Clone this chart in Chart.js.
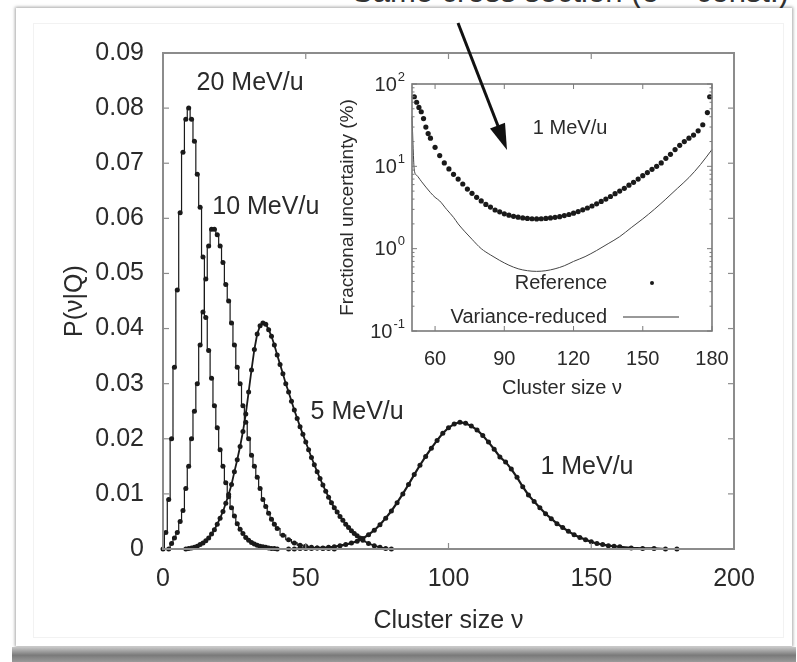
<!DOCTYPE html>
<html><head><meta charset="utf-8">
<script src="https://cdn.jsdelivr.net/npm/chart.js@4.4.0/dist/chart.umd.min.js"></script>
<style>
html,body{margin:0;padding:0;background:#fff;width:797px;height:662px;overflow:hidden;position:relative;}
#card{position:absolute;left:16px;top:8px;width:776px;height:638px;background:#fff;box-shadow:0 0 3px 1px rgba(0,0,0,0.35);}
#inner{position:absolute;left:33px;top:23px;width:749px;height:613px;border:1px solid #f2f2f2;}
#band{position:absolute;left:12px;top:647px;width:784px;height:15px;background:linear-gradient(to bottom,#c8c8c8,#7a7a7a 55%,#9a9a9a);}
#toptext{position:absolute;left:352px;top:-26px;font:31px "Liberation Sans",Arial,sans-serif;color:#333;white-space:nowrap;}
canvas{position:absolute;}
#main{left:0;top:0;}
#inset{left:330px;top:60px;}
svg{position:absolute;left:0;top:0;}
</style></head>
<body>
<div id="toptext">Same cross section (σ = const.)</div>
<div id="card"></div>
<div id="inner"></div>
<div id="band"></div>
<canvas id="main" width="797" height="662"></canvas>
<canvas id="inset" width="420" height="345"></canvas>
<svg width="797" height="662">
  <line x1="458" y1="23" x2="498" y2="126" stroke="#111" stroke-width="3"/>
  <polygon points="507,150 505,122.8 490,128.6" fill="#111"/>
</svg>
<script>
// ---- main plot data: P(nu|Q) vs cluster size nu ----
const nu20 = [0,1,2,3,4,5,6,7,8,9,10,11,12,13,14,15,16,17,18,19,20,21,22,23,24,25,26,27,28,29,30,31,32,33,34,35,36,37,38,39,40];
const p20  = [0,0.003,0.009,0.020,0.033,0.047,0.061,0.072,0.078,0.080,0.078,0.074,0.068,0.062,0.053,0.042,0.036,0.031,0.026,0.022,0.018,0.015,0.012,0.0095,0.0075,0.006,0.0046,0.0036,0.0028,0.0021,0.0016,0.0012,0.0009,0.0007,0.0005,0.0004,0.0003,0.0002,0.0001,0.0001,0];
const nu10 = [2,3,4,5,6,7,8,9,10,11,12,13,14,15,16,17,18,19,20,21,22,23,24,25,26,27,28,29,30,31,32,33,34,35,36,37,38,39,40,42,44,46,48,50,52,54,56,58,60];
const p10  = [0,0.001,0.002,0.003,0.005,0.007,0.011,0.015,0.020,0.025,0.030,0.037,0.043,0.049,0.055,0.058,0.058,0.057,0.055,0.052,0.048,0.045,0.041,0.037,0.033,0.030,0.026,0.023,0.020,0.017,0.015,0.013,0.011,0.009,0.0077,0.0065,0.0054,0.0045,0.0037,0.0025,0.0017,0.0011,0.0007,0.0005,0.0003,0.0002,0.0001,0.0001,0];
const nu5  = [8,9,10,11,12,13,14,15,16,17,18,19,20,21,22,23,24,25,26,27,28,29,30,31,32,33,34,35,36,37,38,39,40,41,42,43,44,45,46,47,48,49,50,51,52,53,54,55,56,57,58,59,60,61,62,63,64,65,66,67,68,69,70,72,74,76,78,80];
const p5   = [0,0.0001,0.0002,0.0003,0.0005,0.0008,0.0011,0.0015,0.0020,0.0027,0.0035,0.0045,0.0056,0.0068,0.0083,0.0099,0.0117,0.0140,0.0162,0.0186,0.0213,0.0245,0.0285,0.0325,0.0362,0.0390,0.0405,0.0410,0.0408,0.0398,0.0386,0.0370,0.0352,0.0335,0.0318,0.0300,0.0285,0.0268,0.0252,0.0237,0.0222,0.0208,0.0194,0.0180,0.0166,0.0153,0.0140,0.0128,0.0116,0.0105,0.0094,0.0084,0.0075,0.0067,0.0059,0.0052,0.0045,0.0039,0.0033,0.0028,0.0024,0.0020,0.0016,0.0010,0.0006,0.0003,0.0001,0];
const nu1  = [44,46,48,50,52,54,56,58,60,62,64,66,68,70,72,74,76,78,80,82,84,86,88,90,92,94,96,98,100,102,104,106,108,110,112,114,116,118,120,122,124,126,128,130,132,134,136,138,140,142,144,146,148,150,152,154,156,158,160,164,168,172,176,180];
const p1   = [0,0,0.0001,0.0001,0.0001,0.0002,0.0002,0.0003,0.0004,0.0006,0.0008,0.0011,0.0014,0.0019,0.0026,0.0034,0.0044,0.0056,0.0069,0.0084,0.0100,0.0117,0.0135,0.0152,0.0168,0.0183,0.0197,0.0210,0.0220,0.0227,0.0230,0.0228,0.0223,0.0216,0.0206,0.0194,0.0181,0.0167,0.0158,0.0145,0.0130,0.0113,0.0098,0.0086,0.0075,0.0064,0.0055,0.0046,0.0039,0.0032,0.0026,0.0021,0.0017,0.0013,0.0010,0.0008,0.0006,0.0005,0.0004,0.0002,0.0001,0.0001,0,0];
const mainXTicks = [0,50,100,150,200];
const mainYTicks = [0,0.01,0.02,0.03,0.04,0.05,0.06,0.07,0.08,0.09];
const mainYLabels = ['0','0.01','0.02','0.03','0.04','0.05','0.06','0.07','0.08','0.09'];
const curveLabels = ['20 MeV/u','10 MeV/u','5 MeV/u','1 MeV/u'];

// ---- inset data: fractional uncertainty (%) vs nu, 1 MeV/u ----
const insetNu  = [51,52,53,54,55,56,57,58,60,62,64,66,68,70,72,74,76,78,80,82,84,86,88,90,92,94,96,98,100,102,104,106,108,110,112,114,116,118,120,122,124,126,128,130,132,134,136,138,140,142,144,146,148,150,152,154,156,158,160,162,164,166,168,170,172,174,176,178,179];
const insetRef = [70,60,52,46,38,30,25,22,17,13.5,11,9.3,8,7,6.1,5.3,4.7,4.2,3.8,3.45,3.2,2.95,2.8,2.65,2.55,2.47,2.41,2.36,2.33,2.31,2.30,2.31,2.33,2.36,2.40,2.45,2.52,2.6,2.7,2.82,2.96,3.12,3.3,3.5,3.75,4.0,4.3,4.65,5.0,5.4,5.9,6.4,7.0,7.7,8.4,9.2,10,11,12.5,14,16,18,20,22,24,27,32,45,70];
const varNu  = [50,51,52,54,56,58,60,62,65,68,70,73,76,80,84,88,92,96,100,104,108,112,116,120,125,130,135,140,145,150,155,160,165,170,175,180];
const varVal = [40,9,7.8,6.6,5.6,4.8,4.2,3.8,3.0,2.4,2.0,1.6,1.3,1.0,0.84,0.72,0.63,0.57,0.54,0.53,0.54,0.57,0.62,0.70,0.80,0.95,1.15,1.4,1.8,2.3,3.0,4.0,5.4,7.3,10.5,16];
const insetXTicks = [60,90,120,150,180];
const insetYTicks = [0.1,1,10,100];
const insetYExp = ['-1','0','1','2'];
const legendNames = ['Reference','Variance-reduced'];
const insetLabel = '1 MeV/u';

const FONT = '"Liberation Sans", Arial, Helvetica, sans-serif';
const INK = '#1a1a1a', TXT = '#2a2a2a', FRAME = '#8c8c8c';
const pts = (xs, ys) => xs.map((x, i) => ({x, y: ys[i]}));

const framePlugin = {
  id: 'frame',
  afterDatasetsDraw(chart, args, o) {
    const {ctx, chartArea: a, scales} = chart;
    const xs = scales.x, ys = scales.y;
    ctx.save();
    ctx.strokeStyle = o.color; ctx.lineWidth = o.width;
    ctx.strokeRect(a.left, a.top, a.right - a.left, a.bottom - a.top);
    ctx.lineWidth = o.tickWidth;
    const seg = (x1, y1, x2, y2) => { ctx.beginPath(); ctx.moveTo(x1, y1); ctx.lineTo(x2, y2); ctx.stroke(); };
    (o.xTicks || []).forEach(v => { const p = xs.getPixelForValue(v); seg(p, a.bottom, p, a.bottom - o.len); seg(p, a.top, p, a.top + o.len); });
    (o.yTicks || []).forEach(v => { const p = ys.getPixelForValue(v); seg(a.left, p, a.left + o.len, p); seg(a.right, p, a.right - o.len, p); });
    (o.yMinor || []).forEach(v => { const p = ys.getPixelForValue(v); seg(a.left, p, a.left + o.len / 2, p); seg(a.right, p, a.right - o.len / 2, p); });
    ctx.restore();
  }
};

const textPlugin = {
  id: 'texts',
  afterDraw(chart, args, o) {
    const {ctx, scales} = chart;
    ctx.save();
    ctx.fillStyle = TXT; ctx.textAlign = 'center'; ctx.textBaseline = 'middle';
    (o.items || []).forEach(t => {
      ctx.font = t.size + 'px ' + FONT;
      ctx.fillText(t.text, scales.x.getPixelForValue(t.x), scales.y.getPixelForValue(t.y));
    });
    ctx.restore();
  }
};

// main chart
const styleFor = (stepped, bw) => ({borderColor: INK, backgroundColor: INK, borderWidth: bw, pointRadius: 2.5, pointBorderWidth: 0, pointBackgroundColor: INK, stepped, clip: 6, fill: false, tension: 0});
new Chart(document.getElementById('main'), {
  type: 'line',
  data: {datasets: [
    {label: curveLabels[0], data: pts(nu20, p20), ...styleFor('middle', 1.2)},
    {label: curveLabels[1], data: pts(nu10, p10), ...styleFor('middle', 1.2)},
    {label: curveLabels[2], data: pts(nu5, p5), ...styleFor(false, 1.8)},
    {label: curveLabels[3], data: pts(nu1, p1), ...styleFor(false, 2.2)}
  ]},
  options: {
    responsive: false, animation: false, devicePixelRatio: 1,
    layout: {padding: {left: 0, top: 53, right: 63, bottom: 0}},
    plugins: {
      legend: {display: false}, tooltip: {enabled: false},
      frame: {color: FRAME, width: 2, tickWidth: 1.2, len: 6, xTicks: mainXTicks, yTicks: mainYTicks},
      texts: {items: [
        {text: curveLabels[0], x: 30.5, y: 0.0846, size: 25},
        {text: curveLabels[1], x: 36, y: 0.0621, size: 25},
        {text: curveLabels[2], x: 68, y: 0.0249, size: 25},
        {text: curveLabels[3], x: 148.5, y: 0.0149, size: 25}
      ]}
    },
    scales: {
      x: {type: 'linear', min: 0, max: 200,
        afterBuildTicks: s => { s.ticks = mainXTicks.map(v => ({value: v})); },
        afterFit: s => { s.height = 113; },
        grid: {display: false, drawTicks: false}, border: {display: false},
        ticks: {padding: 15, color: TXT, font: {family: FONT, size: 25}, maxRotation: 0, callback: v => String(v)},
        title: {display: true, text: 'Cluster size ν', color: TXT, font: {family: FONT, size: 25}, padding: {top: 0, bottom: 26}}
      },
      y: {type: 'linear', min: 0, max: 0.09,
        afterBuildTicks: s => { s.ticks = mainYTicks.map(v => ({value: v})); },
        afterFit: s => { s.width = 163; },
        grid: {display: false, drawTicks: false}, border: {display: false},
        ticks: {padding: 19, color: TXT, font: {family: FONT, size: 25}, callback: (v, i) => mainYLabels[i]},
        title: {display: true, text: 'P(ν|Q)', color: TXT, font: {family: FONT, size: 25}, padding: {top: 60, bottom: 0}}
      }
    }
  },
  plugins: [framePlugin, textPlugin]
});

// inset chart
const insetYLabelPlugin = {
  id: 'ylog',
  afterDraw(chart) {
    const {ctx, chartArea: a, scales} = chart;
    ctx.save(); ctx.fillStyle = TXT; ctx.textBaseline = 'middle'; ctx.textAlign = 'right';
    insetYTicks.forEach((v, i) => {
      const p = scales.y.getPixelForValue(v);
      ctx.font = '13px ' + FONT;
      const ew = ctx.measureText(insetYExp[i]).width;
      ctx.fillText(insetYExp[i], a.left - 7, p - 7);
      ctx.font = '20px ' + FONT;
      ctx.fillText('10', a.left - 8 - ew, p + 1);
    });
    ctx.restore();
  }
};
const insetLegendPlugin = {
  id: 'ilegend',
  afterDraw(chart) {
    const {ctx, chartArea: a} = chart;
    ctx.save(); ctx.fillStyle = TXT; ctx.textBaseline = 'middle'; ctx.textAlign = 'right';
    ctx.font = '20px ' + FONT;
    const tx = a.right - 105;
    ctx.fillText(legendNames[0], tx, a.bottom - 48);
    ctx.fillText(legendNames[1], tx, a.bottom - 14);
    ctx.fillStyle = INK; ctx.beginPath(); ctx.arc(a.right - 60, a.bottom - 48, 2, 0, Math.PI * 2); ctx.fill();
    ctx.strokeStyle = '#333'; ctx.lineWidth = 1;
    ctx.beginPath(); ctx.moveTo(a.right - 89, a.bottom - 14); ctx.lineTo(a.right - 33, a.bottom - 14); ctx.stroke();
    ctx.restore();
  }
};
const minorLog = [];
[0.1, 1, 10].forEach(d => { for (let k = 2; k <= 9; k++) minorLog.push(d * k); });
new Chart(document.getElementById('inset'), {
  type: 'line',
  data: {datasets: [
    {label: legendNames[0], data: pts(insetNu, insetRef), showLine: false, pointRadius: 2.6, pointBorderWidth: 0, pointBackgroundColor: INK, clip: 4},
    {label: legendNames[1], data: pts(varNu, varVal), borderColor: '#444', borderWidth: 1, pointRadius: 0, tension: 0.35, cubicInterpolationMode: 'monotone', clip: 2}
  ]},
  options: {
    responsive: false, animation: false, devicePixelRatio: 1,
    layout: {padding: {left: 0, top: 24, right: 38, bottom: 0}},
    plugins: {
      legend: {display: false}, tooltip: {enabled: false},
      frame: {color: '#7a7a7a', width: 1.6, tickWidth: 1, len: 5, xTicks: insetXTicks, yTicks: insetYTicks, yMinor: minorLog},
      texts: {items: [{text: insetLabel, x: 118.5, y: 29, size: 20}]}
    },
    scales: {
      x: {type: 'linear', min: 50, max: 180,
        afterBuildTicks: s => { s.ticks = insetXTicks.map(v => ({value: v})); },
        afterFit: s => { s.height = 74; },
        grid: {display: false, drawTicks: false}, border: {display: false},
        ticks: {padding: 16, color: TXT, font: {family: FONT, size: 20}, maxRotation: 0, callback: v => String(v)},
        title: {display: true, text: 'Cluster size ν', color: TXT, font: {family: FONT, size: 20}, padding: {top: 0, bottom: 5}}
      },
      y: {type: 'logarithmic', min: 0.1, max: 100,
        afterBuildTicks: s => { s.ticks = insetYTicks.map(v => ({value: v})); },
        afterFit: s => { s.width = 82; },
        grid: {display: false, drawTicks: false}, border: {display: false},
        ticks: {display: false},
        title: {display: true, text: 'Fractional uncertainty (%)', color: TXT, font: {family: FONT, size: 19}, padding: {top: 6, bottom: 0}}
      }
    }
  },
  plugins: [framePlugin, textPlugin, insetYLabelPlugin, insetLegendPlugin]
});
</script>
</body></html>
